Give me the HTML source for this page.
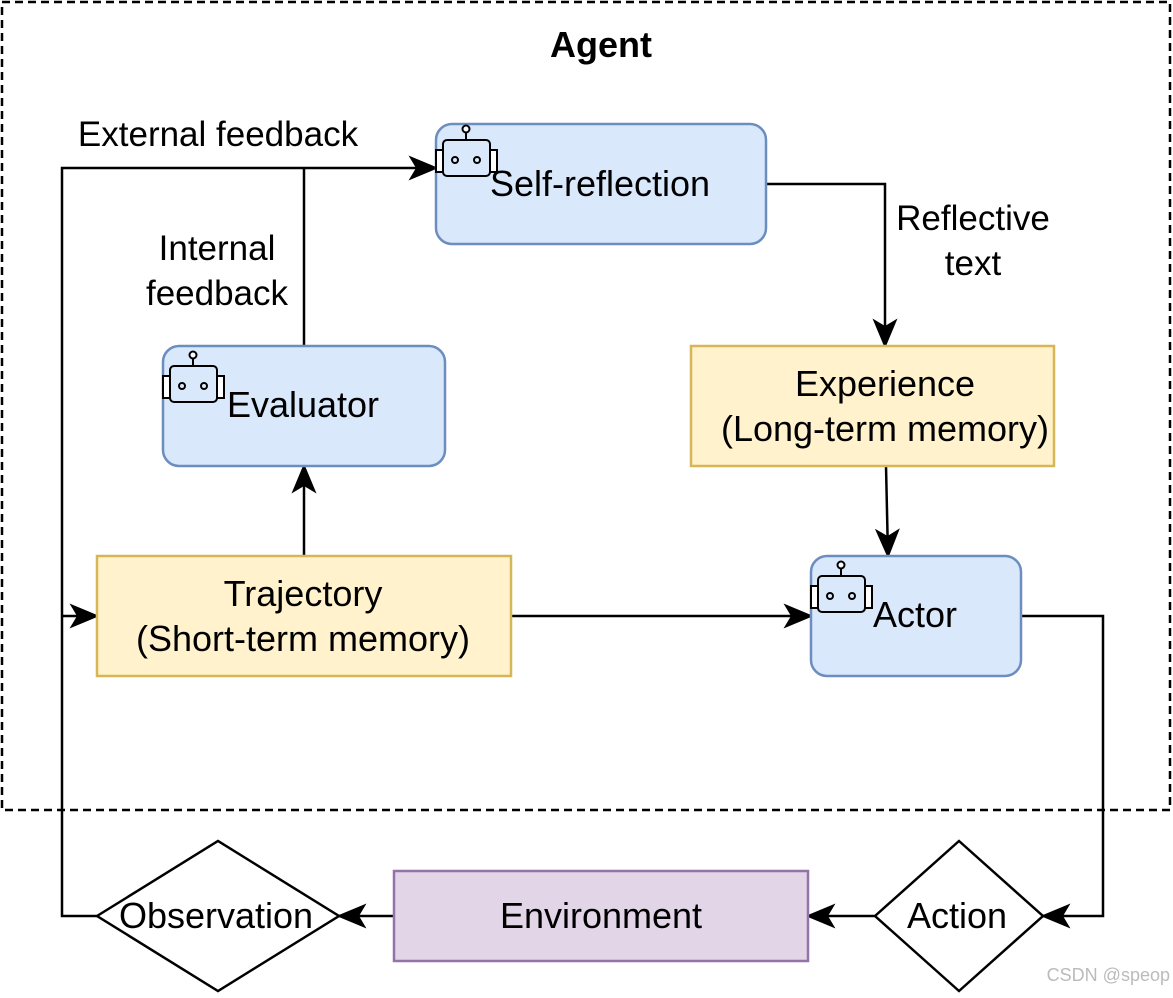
<!DOCTYPE html>
<html><head><meta charset="utf-8"><style>
html,body{margin:0;padding:0;background:#fff;}
svg text{font-family:"Liberation Sans",Arial,sans-serif;fill:#000;}
</style></head><body>
<svg width="1173" height="993" viewBox="0 0 1173 993" xmlns="http://www.w3.org/2000/svg">
<defs>
<marker id="a" markerUnits="userSpaceOnUse" markerWidth="30" markerHeight="30" refX="22" refY="10" orient="auto" viewBox="0 0 24 20">
<path d="M0,0 L24,10 L0,20 L6,10 Z" fill="#000"/>
</marker>
<g id="robot" fill="none" stroke="#000" stroke-width="2">
<rect x="0" y="26" width="7" height="22" fill="#fff"/>
<rect x="54" y="26" width="7" height="22" fill="#fff"/>
<rect x="7" y="16" width="47" height="36" rx="4" fill="#dae8fc"/>
<line x1="30" y1="9" x2="30" y2="16"/>
<circle cx="30" cy="5" r="3.5" fill="#fff"/>
<circle cx="19" cy="36" r="3"/>
<circle cx="41" cy="36" r="3"/>
</g>
</defs>
<rect x="2" y="2" width="1168" height="808" fill="none" stroke="#000" stroke-width="2.5" stroke-dasharray="8,5"/>
<text x="601" y="57" font-size="36" font-weight="bold" text-anchor="middle">Agent</text>

<g stroke="#000" stroke-width="2.5" fill="none">
<polyline points="97,916 62,916 62,168 436,168" marker-end="url(#a)"/>
<line x1="62" y1="616" x2="97" y2="616" marker-end="url(#a)"/>
<line x1="304" y1="346" x2="304" y2="168"/>
<polyline points="766,184 885,184 885,346" marker-end="url(#a)"/>
<line x1="886" y1="466" x2="888" y2="556" marker-end="url(#a)"/>
<line x1="511" y1="616" x2="811" y2="616" marker-end="url(#a)"/>
<line x1="304" y1="556" x2="304" y2="466" marker-end="url(#a)"/>
<polyline points="1021,616 1103,616 1103,916 1043,916" marker-end="url(#a)"/>
<line x1="875" y1="916" x2="808" y2="916" marker-end="url(#a)"/>
<line x1="394" y1="916" x2="339" y2="916" marker-end="url(#a)"/>
</g>

<rect x="436" y="124" width="330" height="120" rx="16" fill="#dae8fc" stroke="#6c8ebf" stroke-width="2.5"/>
<rect x="163" y="346" width="282" height="120" rx="16" fill="#dae8fc" stroke="#6c8ebf" stroke-width="2.5"/>
<rect x="811" y="556" width="210" height="120" rx="16" fill="#dae8fc" stroke="#6c8ebf" stroke-width="2.5"/>
<rect x="691" y="346" width="363" height="120" fill="#fff2cc" stroke="#d6b656" stroke-width="2.5"/>
<rect x="97" y="556" width="414" height="120" fill="#fff2cc" stroke="#d6b656" stroke-width="2.5"/>
<rect x="394" y="871" width="414" height="90" fill="#e1d5e7" stroke="#9673a6" stroke-width="2.5"/>
<polygon points="97,916 218,841 339,916 218,991" fill="#fff" stroke="#000" stroke-width="2.5"/>
<polygon points="875,916 959,841 1043,916 959,991" fill="#fff" stroke="#000" stroke-width="2.5"/>

<use href="#robot" x="436" y="124"/>
<use href="#robot" x="163" y="350"/>
<use href="#robot" x="811" y="560"/>

<g font-size="36">
<text x="600" y="196" text-anchor="middle">Self-reflection</text>
<text x="303" y="417" text-anchor="middle">Evaluator</text>
<text x="915" y="627" text-anchor="middle">Actor</text>
<text x="885" y="396" text-anchor="middle">Experience</text>
<text x="885" y="441" text-anchor="middle">(Long-term memory)</text>
<text x="303" y="606" text-anchor="middle">Trajectory</text>
<text x="303" y="651" text-anchor="middle">(Short-term memory)</text>
<text x="601" y="928" text-anchor="middle">Environment</text>
<text x="216" y="928" text-anchor="middle">Observation</text>
<text x="957" y="928" text-anchor="middle">Action</text>
</g>
<g font-size="35">
<text x="218" y="146" text-anchor="middle">External feedback</text>
<text x="217" y="260" text-anchor="middle">Internal</text>
<text x="217" y="305" text-anchor="middle">feedback</text>
<text x="973" y="230" text-anchor="middle">Reflective</text>
<text x="973" y="275" text-anchor="middle">text</text>
</g>
<text x="1170" y="981" font-size="18" text-anchor="end" style="fill:#bbb">CSDN @speop</text>
</svg>
</body></html>
